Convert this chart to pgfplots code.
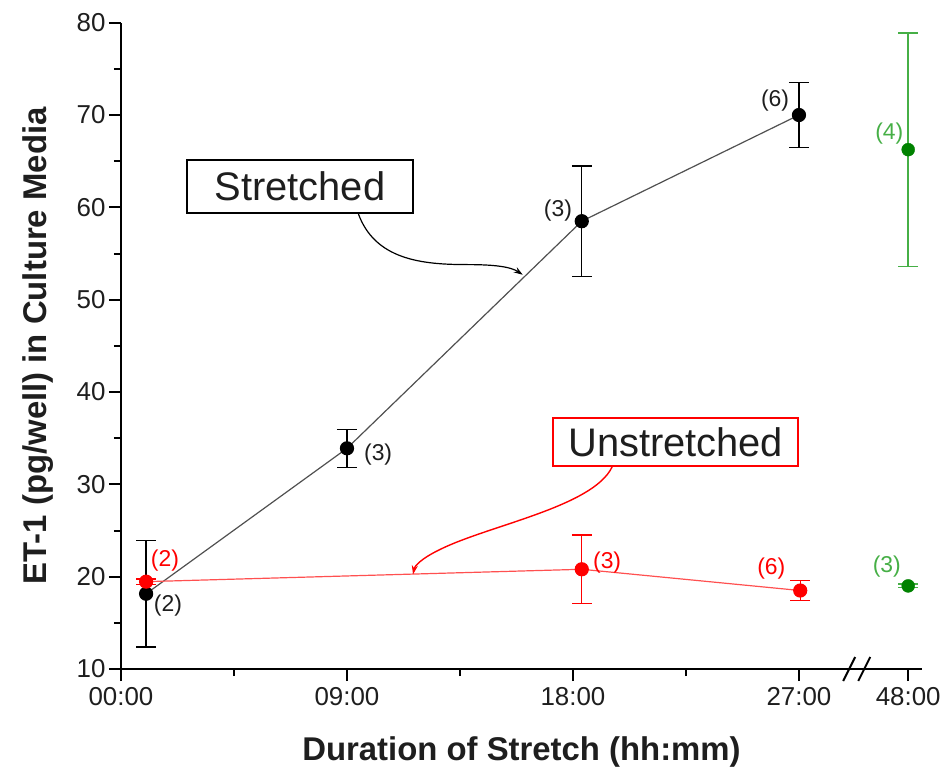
\documentclass[border=0pt]{standalone}
\usepackage{pgfplots}
\pgfplotsset{compat=1.18}
\usepackage{pgfplotstable}
\usepackage{fontspec}
\setmainfont{Liberation Sans}
\usetikzlibrary{arrows.meta}
\definecolor{myred}{RGB}{255,0,0}
\definecolor{lred}{RGB}{255,80,80}
\definecolor{dgreen}{RGB}{0,130,0}
\definecolor{lgreen}{RGB}{70,175,70}
\definecolor{lgray}{RGB}{80,80,80}
\definecolor{tickgray}{RGB}{30,30,30}
\newcommand{\nf}{\fontsize{23}{26}\selectfont}
\pgfplotstableread{
x y e
1.0 18.15 5.75
9.0 33.9 2.05
18.35 58.5 6.0
27.0 70.0 3.5
}\stretched
\pgfplotstableread{
x y e
1.0 19.46 0.3
18.35 20.8 3.7
27.05 18.5 1.1
}\unstretched
\pgfplotstableread{
x y e
31.35 66.25 12.65
31.35 19.0 0.2
}\longdur
\begin{document}
\begin{tikzpicture}
\useasboundingbox (-121bp,-107bp) rectangle (826bp,669bp);
\begin{axis}[
  at={(0,0)}, anchor=south west,
  scale only axis, width=801bp, height=646.3bp,
  xmin=0, xmax=31.9, ymin=10, ymax=80,
  clip=false,
  axis x line*=bottom, axis y line*=left,
  axis line style={-, line width=2bp, black},
  tick align=outside,
  major tick length=12bp, minor tick length=7bp,
  every tick/.style={line width=2bp, black},
  ytick={10,20,...,80}, minor ytick={15,25,...,75},
  xtick={0,9,18,27,31.35},
  xticklabels={00:00,09:00,18:00,27:00,48:00},
  minor xtick={4.5,13.5,22.5},
  /pgf/number format/assume math mode=true,
  ticklabel style={font=\fontsize{26}{30}\selectfont, text=tickgray},
  xticklabel style={yshift=-3bp},
  xlabel={\bfseries Duration of Stretch (hh:mm)},
  ylabel={\bfseries ET-1 (pg/well) in Culture Media},
  label style={font=\fontsize{33}{38}\selectfont, text=tickgray},
  xlabel style={at={(axis description cs:0.5,-0.128)}, anchor=center},
  ylabel style={at={(axis description cs:-0.1036,0.5)}, anchor=center},
]
% Stretched
\addplot[lgray, line width=1.2bp, mark=*,
  mark options={black, fill=black, mark size=6.5bp, solid},
  error bars/.cd, y dir=both, y explicit,
  error bar style={black, line width=1.4bp},
  error mark options={rotate=90, mark size=10bp, line width=1.4bp, black}]
  table[x=x, y=y, y error=e] {\stretched};
% Unstretched
\addplot[lred, line width=1.2bp, mark=*,
  mark options={myred, fill=myred, mark size=6.5bp, solid},
  error bars/.cd, y dir=both, y explicit,
  error bar style={myred, line width=1.4bp},
  error mark options={rotate=90, mark size=10bp, line width=1.4bp, myred}]
  table[x=x, y=y, y error=e] {\unstretched};
% 48 h
\addplot[only marks, mark=*,
  mark options={dgreen, fill=dgreen, mark size=6.5bp, solid},
  error bars/.cd, y dir=both, y explicit,
  error bar style={lgreen, line width=1.4bp},
  error mark options={rotate=90, mark size=10bp, line width=1.4bp, lgreen}]
  table[x=x, y=y, y error=e] {\longdur};

% n labels
\node[font=\nf, text=myred] at (axis cs:1.75,21.7) {(2)};
\node[font=\nf, text=tickgray] at (axis cs:1.87,16.9) {(2)};
\node[font=\nf, text=tickgray] at (axis cs:10.24,33.2) {(3)};
\node[font=\nf, text=tickgray] at (axis cs:17.4,59.6) {(3)};
\node[font=\nf, text=tickgray] at (axis cs:26.05,71.6) {(6)};
\node[font=\nf, text=lgreen] at (axis cs:30.6,68.0) {(4)};
\node[font=\nf, text=myred] at (axis cs:19.36,21.5) {(3)};
\node[font=\nf, text=myred] at (axis cs:25.9,20.9) {(6)};
\node[font=\nf, text=lgreen] at (axis cs:30.5,21.05) {(3)};

% annotation boxes
\node[draw=black, line width=2.2bp, fill=white, minimum width=226bp, minimum height=53bp, inner sep=0pt,
  font=\fontsize{40}{46}\selectfont, text=tickgray] at (axis cs:7.13,62.27) {Stretched};
\draw[black, line width=1.2bp, -{Stealth[length=9bp,width=6bp]}]
  (axis cs:9.44,59.4) .. controls (axis cs:10.1,54.3) and (axis cs:12.0,53.8) .. (axis cs:13.8,53.8)
  .. controls (axis cs:14.8,53.8) and (axis cs:15.5,53.6) .. (axis cs:16.0,52.7);
\node[draw=myred, line width=2.4bp, fill=white, minimum width=245bp, minimum height=48bp, inner sep=0pt,
  font=\fontsize{40}{46}\selectfont, text=tickgray] at (axis cs:22.09,34.6) {Unstretched};
\draw[myred, line width=1.4bp, -{Stealth[length=9bp,width=6bp]}]
  (axis cs:19.56,31.9) .. controls (axis cs:18.8,27.5) and (axis cs:14.5,25.5) .. (axis cs:12.6,22.8)
  .. controls (axis cs:12.0,22.0) and (axis cs:11.7,21.2) .. (axis cs:11.63,20.25);

% axis break
\draw[line width=2bp] ([xshift=-6bp,yshift=-12bp]axis cs:29.0,10) -- ([xshift=6bp,yshift=12bp]axis cs:29.0,10);
\draw[line width=2bp] ([xshift=-6bp,yshift=-12bp]axis cs:29.6,10) -- ([xshift=6bp,yshift=12bp]axis cs:29.6,10);
\end{axis}
\end{tikzpicture}
\end{document}
